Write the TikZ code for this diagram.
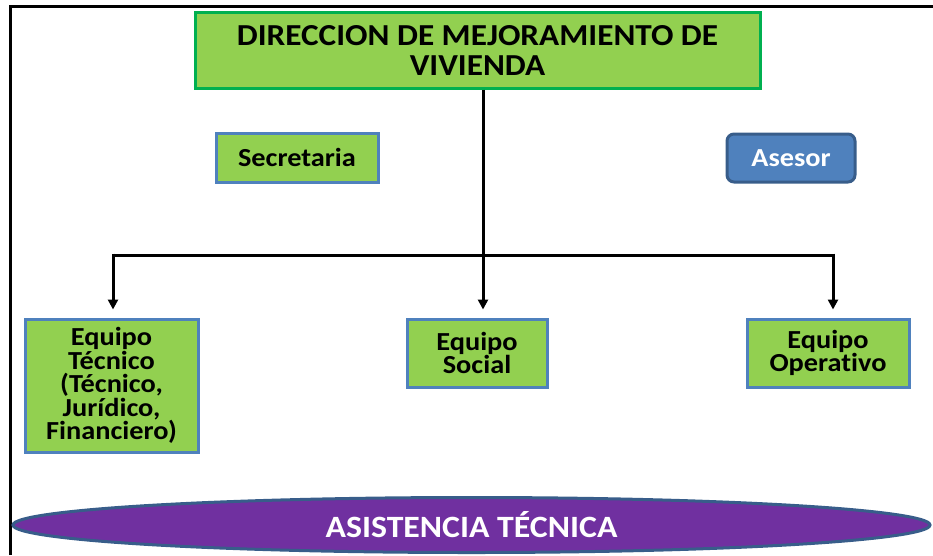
\documentclass[tikz,border=0pt]{standalone}
\usepackage{fontspec}
\usetikzlibrary{arrows.meta,shapes.geometric}
\newfontfamily\cf[FakeStretch=1.09,Ligatures=NoCommon]{Carlito}
\definecolor{gfill}{HTML}{92D050}
\definecolor{gborder}{HTML}{00B050}
\definecolor{bborder}{HTML}{4F81BD}
\definecolor{afill}{HTML}{4F81BD}
\definecolor{aborder}{HTML}{385D8A}
\definecolor{pfill}{HTML}{7030A0}
\tikzset{
  x=1pt, y=-1pt,
  gbox/.style={draw=bborder, fill=gfill, line width=3pt, inner sep=0pt, align=center,
    font=\cf\bfseries\fontsize{26}{23.5}\selectfont, text=black},
  arr/.style={line width=3pt, -{Triangle[length=10pt,width=10pt]}, shorten >=8pt},
  conn/.style={line width=3pt}
}
\begin{document}
\begin{tikzpicture}
\useasboundingbox (0,0) rectangle (933,555);
% frame
\draw[line width=3pt] (10,555) -- (10,6) -- (933,6);
% nodes
\node[draw=gborder, fill=gfill, line width=3pt, minimum width=565pt, minimum height=76pt,
  inner sep=0pt, align=center, font=\cf\bfseries\fontsize{30.5}{30}\selectfont]
  (top) at (477.5,50) {DIRECCION DE MEJORAMIENTO DE\\VIVIENDA};
\node[gbox, minimum width=162pt, minimum height=49pt] (sec) at (297,157.5) {Secretaria};
\node[draw=aborder, fill=afill, line width=3pt, rounded corners=7pt, minimum width=128pt,
  minimum height=48pt, inner sep=0pt, text=white, font=\cf\bfseries\fontsize{26}{23.5}\selectfont]
  (ase) at (791,158) {Asesor};
\node[gbox, minimum width=173pt, minimum height=133pt] (tec) at (111.5,385.5)
  {Equipo\\Técnico\\(Técnico,\\Jurídico,\\Financiero)};
\node[gbox, minimum width=140pt, minimum height=68pt] (soc) at (477,353) {Equipo\\Social};
\node[gbox, minimum width=162pt, minimum height=68pt] (ope) at (828,353) {Equipo\\Operativo};
\node[ellipse, draw=aborder, fill=pfill, line width=3pt, minimum width=917pt, minimum height=55pt,
  inner sep=0pt, text=white, font=\cf\bfseries\fontsize{31}{30}\selectfont]
  (asis) at (471.5,525) {ASISTENCIA TÉCNICA};
% connectors
\coordinate (j) at (483,255);
\coordinate (hl) at (113,255);
\coordinate (hr) at (833,255);
\draw[arr] (top.south -| j) -- (soc.north -| j);
\draw[conn] (hl) -- (hr);
\draw[arr] ([yshift=1.5pt]hl) -- (hl |- tec.north);
\draw[arr] ([yshift=1.5pt]hr) -- (hr |- ope.north);
\end{tikzpicture}
\end{document}
